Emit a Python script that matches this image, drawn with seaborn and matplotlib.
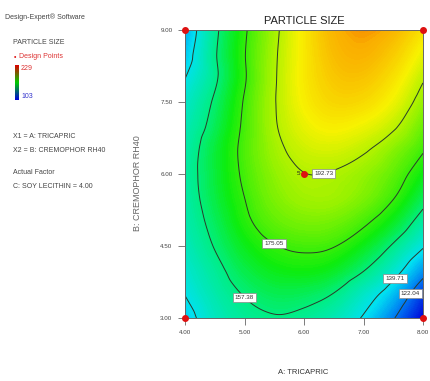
import numpy as np
import matplotlib
matplotlib.use("Agg")
import matplotlib.pyplot as plt
import matplotlib.tri as mtri
from matplotlib.colors import LinearSegmentedColormap
import seaborn as sns

# ---------------- data ----------------
tricapric = [4.0, 4.5, 5.0, 5.5, 6.0, 6.5, 7.0, 7.5, 8.0]          # A (x)
cremophor = [3.0, 3.5, 4.0, 4.5, 5.0, 5.5, 6.0, 6.5, 7.0, 7.5, 8.0, 8.5, 9.0]  # B (y)
# particle size estimates, one row per cremophor value
particle_size = [
    [135.0, 147.0, 154.0, 156.5, 154.5, 149.0, 138.5, 123.0, 103.0],
    [140.0, 150.5, 158.0, 162.0, 161.5, 157.0, 146.0, 133.0, 113.0],
    [144.0, 154.0, 163.0, 168.5, 170.0, 167.0, 158.0, 145.0, 127.0],
    [147.5, 158.0, 168.0, 174.5, 177.0, 175.5, 168.0, 156.0, 141.0],
    [150.0, 161.0, 172.5, 180.5, 184.0, 183.0, 177.0, 167.0, 152.0],
    [151.5, 163.5, 175.0, 184.5, 189.5, 189.5, 184.5, 175.5, 161.5],
    [152.0, 164.5, 177.0, 187.0, 192.5, 192.0, 188.0, 180.5, 169.0],
    [151.0, 164.5, 178.0, 189.5, 196.5, 198.0, 194.0, 186.0, 176.0],
    [148.5, 161.5, 177.0, 191.5, 201.0, 205.0, 202.0, 194.5, 182.0],
    [145.0, 159.0, 176.0, 192.0, 204.5, 211.0, 210.0, 202.0, 188.0],
    [139.5, 155.5, 174.0, 191.5, 206.0, 215.0, 216.0, 208.0, 194.0],
    [134.0, 156.0, 174.5, 191.0, 206.0, 218.0, 221.0, 214.0, 201.0],
    [130.0, 154.5, 173.5, 190.0, 206.0, 220.0, 225.0, 220.0, 208.0],
]
contour_levels = [122.04, 139.71, 157.38, 175.05, 192.73]
range_low, range_high = 103, 229
design_x = [4.0, 8.0, 4.0, 8.0, 6.0]
design_y = [3.0, 3.0, 9.0, 9.0, 6.0]
center_replicates = "5"
x_ticks = [4.0, 5.0, 6.0, 7.0, 8.0]
y_ticks = [3.0, 4.5, 6.0, 7.5, 9.0]

# ---------------- style ----------------
sns.set_theme(style="white")
plt.rcParams['font.family'] = ['Liberation Sans', 'DejaVu Sans']

de_cmap = LinearSegmentedColormap.from_list("de", [
    (0.00, (0.00, 0.00, 0.85)),
    (0.15, (0.00, 0.45, 0.95)),
    (0.28, (0.00, 0.88, 0.95)),
    (0.42, (0.00, 0.93, 0.55)),
    (0.53, (0.05, 0.93, 0.05)),
    (0.68, (0.60, 0.95, 0.00)),
    (0.80, (0.97, 0.95, 0.00)),
    (0.95, (0.98, 0.68, 0.00)),
    (1.00, (0.95, 0.45, 0.00)),
])

fig = plt.figure(figsize=(4.30, 3.81), dpi=100)
fig.patch.set_facecolor("white")
ax = fig.add_axes([185/430, 1-318/381, (423-185)/430, (318-30)/381])

X, Y = np.meshgrid(tricapric, cremophor)
Z = np.array(particle_size)
tri = mtri.Triangulation(X.ravel(), Y.ravel())
refiner = mtri.UniformTriRefiner(tri)
interp = mtri.CubicTriInterpolator(tri, Z.ravel(), kind="geom")
tri_f, z_f = refiner.refine_field(Z.ravel(), triinterpolator=interp, subdiv=4)

ax.tricontourf(tri_f, z_f, levels=np.linspace(range_low - 5, range_high + 5, 160),
               cmap=de_cmap, vmin=range_low, vmax=range_high)
cs = ax.tricontour(tri_f, z_f, levels=contour_levels, colors="#2a3a2a", linewidths=0.7)

label_pos = [(7.8, 3.5), (7.5, 3.86), (4.97, 3.4), (5.51, 4.59), (6.3, 6.14)]
labels = ax.clabel(cs, fmt="%.2f", fontsize=4.5, inline=False,
                   manual=label_pos, colors="#333333")
for t in labels:
    t.set_rotation(0)
    t.set_bbox(dict(boxstyle="square,pad=0.35", fc="white", ec="#888888", lw=0.5))

ax.scatter(design_x, design_y, s=16, color="#dd1111", zorder=5, clip_on=False)
ax.text(design_x[4] - 0.06, design_y[4] + 0.02, center_replicates, fontsize=4.5,
        ha="right", va="center", color="#222222", zorder=6)

ax.set_xlim(4, 8)
ax.set_ylim(3, 9)
ax.set_xticks(x_ticks)
ax.set_yticks(y_ticks)
ax.set_xticklabels([f"{v:.2f}" for v in x_ticks], fontsize=4.5, color="#444444")
ax.set_yticklabels([f"{v:.2f}" for v in y_ticks], fontsize=4.5, color="#444444")
ax.tick_params(direction="out", length=5, width=0.6, color="#666666", pad=4,
               bottom=True, left=True)
for s in ax.spines.values():
    s.set_color("#666666")
    s.set_linewidth(0.7)

ax.set_title("PARTICLE SIZE", fontsize=8, color="#222222", pad=4)
fig.text(303/430, 1-372/381, "A: TRICAPRIC", fontsize=5.5, ha="center", va="center",
         color="#333333")
fig.text(138/430, 1-183/381, "B: CREMOPHOR RH40", fontsize=6.5, ha="center", va="center",
         rotation=90, color="#666666")

# left-hand legend block
kw = dict(fontsize=5, ha="left", va="center", color="#444444")
fig.text(5/430, 1-17/381, "Design-Expert\u00ae Software", **kw)
fig.text(13/430, 1-43/381, "PARTICLE SIZE", **kw)
fig.text(14/430, 1-57/381, "\u2022", fontsize=5, ha="left", va="center", color="#dd1111")
fig.text(19/430, 1-57/381, "Design Points", fontsize=5, ha="left", va="center", color="#dd3333")
cax = fig.add_axes([15/430, 1-100/381, 4/430, 35/381])
cax.imshow(np.linspace(1, 0, 100).reshape(-1, 1), aspect="auto",
           cmap=LinearSegmentedColormap.from_list("lg", ["#0000dd", "#00cc00", "#dd0000"]))
cax.axis("off")
fig.text(21/430, 1-68/381, f"{range_high}", fontsize=5, ha="left", va="center", color="#dd3333")
fig.text(21/430, 1-96/381, f"{range_low}", fontsize=5, ha="left", va="center", color="#3333cc")
fig.text(13/430, 1-137/381, "X1 = A: TRICAPRIC", **kw)
fig.text(13/430, 1-150/381, "X2 = B: CREMOPHOR RH40", **kw)
fig.text(13/430, 1-173/381, "Actual Factor", **kw)
fig.text(13/430, 1-187/381, "C: SOY LECITHIN = 4.00", **kw)

fig.savefig("out.png", dpi=100, facecolor="white")
